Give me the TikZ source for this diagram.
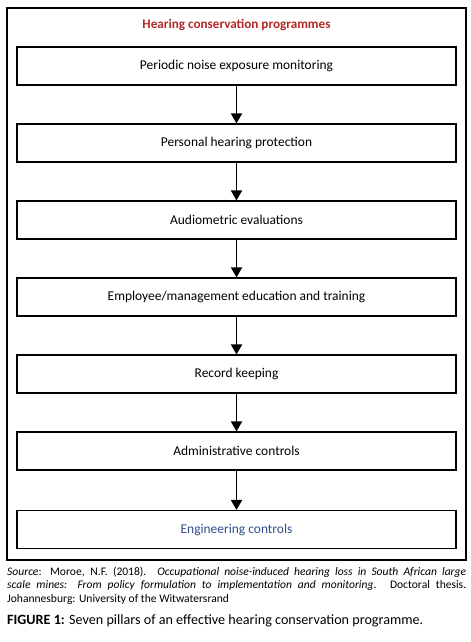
\documentclass[tikz,border=0pt]{standalone}
\usepackage{fontspec}
\setmainfont{Carlito}
\usetikzlibrary{arrows.meta}
\definecolor{titlered}{RGB}{178,40,38}
\definecolor{engblue}{RGB}{52,76,140}
\begin{document}
\begin{tikzpicture}[x=1bp,y=-1bp,
  pillar/.style={draw=black,line width=1.1bp,minimum width=439bp,minimum height=38bp,inner sep=0pt,font=\fontsize{13.5}{16}\selectfont},
  flow/.style={line width=1.8bp,-{Triangle[length=10bp,width=11bp]}}]
\useasboundingbox (0,0) rectangle (471,642);
\fill[white] (0,0) rectangle (471,642);
\draw[line width=1.1bp] (7,8) rectangle (466,560);
\node[font=\bfseries\fontsize{13.2}{15}\selectfont,text=titlered] (title) at (236.5,25) {Hearing conservation programmes};
\node[pillar] (p1) at (236.5,66) {Periodic noise exposure monitoring};
\node[pillar] (p2) at (236.5,143) {Personal hearing protection};
\node[pillar] (p3) at (236.5,220) {Audiometric evaluations};
\node[pillar] (p4) at (236.5,297) {Employee/management education and training};
\node[pillar] (p5) at (236.5,374) {Record keeping};
\node[pillar] (p6) at (236.5,451) {Administrative controls};
\node[pillar,text=engblue] (p7) at (236.5,529.5) {Engineering controls};
\foreach \a/\b in {p1/p2,p2/p3,p3/p4,p4/p5,p5/p6,p6/p7}
  \draw[flow] (\a.south) -- (\b.north);
\node[anchor=north west,inner sep=0pt,text width=459bp,align=justify,font=\fontsize{11.6}{13.3}\selectfont] (src) at (7,567)
  {\textit{Source}: Moroe, N.F. (2018). \textit{Occupational noise-induced hearing loss in South African large\linebreak scale mines: From policy formulation to implementation and monitoring}. Doctoral thesis.\linebreak Johannesburg: University of the Witwatersrand};
\node[anchor=north west,inner sep=0pt,font=\fontsize{14.2}{16}\selectfont] (cap) at (7,614)
  {\textbf{FIGURE 1:} Seven pillars of an effective hearing conservation programme.};
\end{tikzpicture}
\end{document}
